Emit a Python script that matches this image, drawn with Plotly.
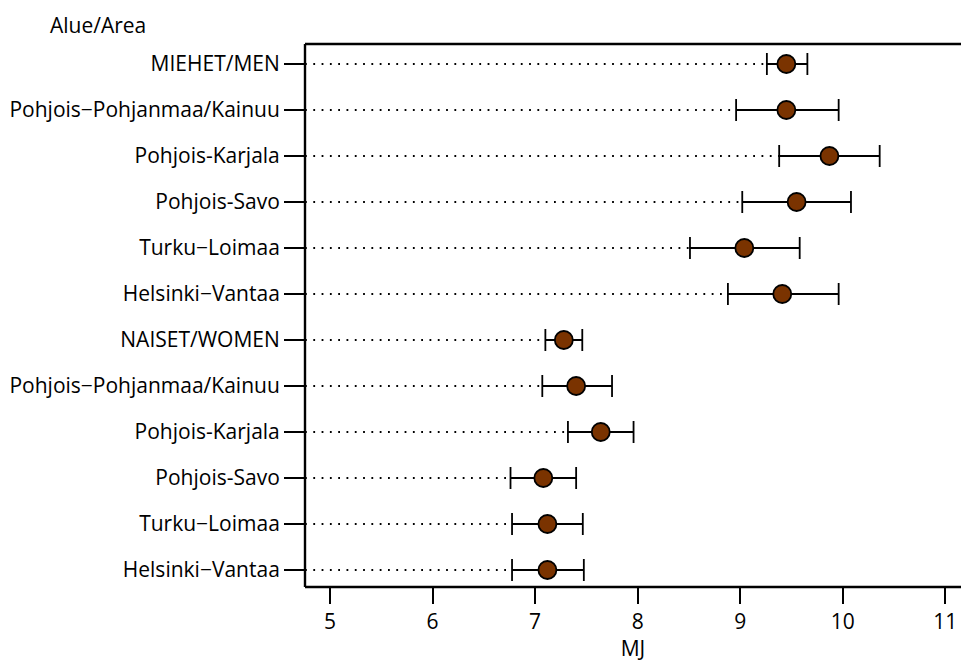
import plotly.graph_objects as go

labels = ["MIEHET/MEN", "Pohjois−Pohjanmaa/Kainuu", "Pohjois-Karjala", "Pohjois-Savo",
          "Turku−Loimaa", "Helsinki−Vantaa",
          "NAISET/WOMEN", "Pohjois−Pohjanmaa/Kainuu", "Pohjois-Karjala", "Pohjois-Savo",
          "Turku−Loimaa", "Helsinki−Vantaa"]
mean = [9.45, 9.45, 9.87, 9.55, 9.04, 9.41, 7.28, 7.40, 7.64, 7.08, 7.12, 7.12]
low = [9.26, 8.96, 9.38, 9.02, 8.51, 8.88, 7.10, 7.07, 7.32, 6.76, 6.775, 6.775]
high = [9.655, 9.96, 10.36, 10.08, 9.58, 9.96, 7.46, 7.75, 7.96, 7.40, 7.465, 7.475]
x_ticks = [5, 6, 7, 8, 9, 10, 11]
x_range = [4.756, 11.153]

pos = list(range(len(labels)))
FONT = "Open Sans"
FS = 21

dx, dy = [], []
for p, lo in zip(pos, low):
    dx += [x_range[0], lo, None]
    dy += [p, p, None]

fig = go.Figure()
fig.add_trace(go.Scatter(x=dx, y=dy, mode="lines",
                         line=dict(color="black", width=1.8, dash="1.8px,6.5px"),
                         hoverinfo="skip", showlegend=False))
fig.add_trace(go.Scatter(
    x=mean, y=pos, mode="markers",
    marker=dict(size=18, color="#7a3300", line=dict(color="black", width=1.8)),
    error_x=dict(type="data", symmetric=False,
                 array=[h - m for h, m in zip(high, mean)],
                 arrayminus=[m - l for m, l in zip(mean, low)],
                 color="black", thickness=1.8, width=11),
    showlegend=False))

frame = dict(color="black", width=2.4)
fig.update_layout(
    template="none",
    width=961, height=662,
    margin=dict(l=305, r=0, t=44, b=75),
    plot_bgcolor="white", paper_bgcolor="white",
    font=dict(family=FONT, size=FS, color="black"),
    xaxis=dict(range=x_range, tickvals=x_ticks, ticks="outside", ticklen=16,
               tickwidth=2, tickcolor="black", showline=False,
               showgrid=False, zeroline=False,
               title=dict(text="MJ", font=dict(size=FS), standoff=3),
               tickfont=dict(size=FS)),
    yaxis=dict(range=[11.37, -0.435], tickvals=pos, ticktext=labels,
               ticks="outside", ticklen=20, tickwidth=2, tickcolor="black",
               showline=False, showgrid=False,
               zeroline=False, tickfont=dict(size=FS)),
    shapes=[dict(type="line", xref="paper", yref="paper", x0=0, x1=1, y0=1, y1=1, line=frame),
            dict(type="line", xref="paper", yref="paper", x0=0, x1=1, y0=0, y1=0, line=frame),
            dict(type="line", xref="paper", yref="paper", x0=0, x1=0, y0=0, y1=1, line=frame)],
    annotations=[dict(text="Alue/Area", xref="paper", yref="paper",
                      x=-0.316, y=1.0, xanchor="center", yanchor="bottom",
                      yshift=3, showarrow=False, font=dict(size=FS))],
)

fig.write_html("out.html", config={"staticPlot": True})
